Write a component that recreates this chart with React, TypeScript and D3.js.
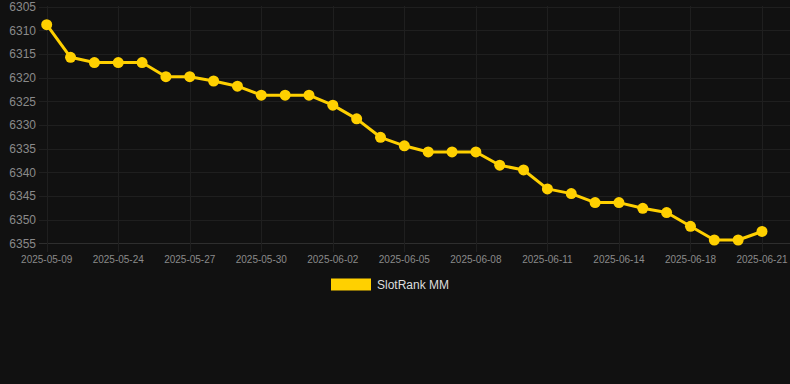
import React from "react";
import * as d3 from "d3";

const categories: string[] = [
  "2025-05-09", "2025-05-22", "2025-05-23", "2025-05-24", "2025-05-25", "2025-05-26",
  "2025-05-27", "2025-05-28", "2025-05-29", "2025-05-30", "2025-05-31", "2025-06-01",
  "2025-06-02", "2025-06-03", "2025-06-04", "2025-06-05", "2025-06-06", "2025-06-07",
  "2025-06-08", "2025-06-09", "2025-06-10", "2025-06-11", "2025-06-12", "2025-06-13",
  "2025-06-14", "2025-06-16", "2025-06-17", "2025-06-18", "2025-06-19", "2025-06-20",
  "2025-06-21",
];

const values: number[] = [
  6308.8, 6315.7, 6316.8, 6316.8, 6316.8, 6319.8, 6319.8, 6320.7, 6321.8, 6323.7,
  6323.7, 6323.7, 6325.8, 6328.7, 6332.6, 6334.4, 6335.7, 6335.7, 6335.7, 6338.5,
  6339.5, 6343.5, 6344.5, 6346.4, 6346.4, 6347.6, 6348.5, 6351.4, 6354.3, 6354.3,
  6352.5,
];

const yTicks: number[] = [6305, 6310, 6315, 6320, 6325, 6330, 6335, 6340, 6345, 6350, 6355];
const seriesName = "SlotRank MM";

const W = 790;
const H = 384;
const FONT = "'Liberation Sans', Arial, Helvetica, sans-serif";
const GOLD = "#ffd000";

export default function App() {
  const x = d3.scalePoint<string>().domain(categories).range([46.7, 762]);
  const y = d3.scaleLinear().domain([6305, 6355]).range([6.7, 243.3]);
  const line = d3
    .line<number>()
    .x((_, i) => x(categories[i]) as number)
    .y((d) => y(d));

  const labelIdx = categories.map((_, i) => i).filter((i) => i % 3 === 0);

  return (
    <svg
      width={W}
      height={H}
      style={{ position: "fixed", left: 0, top: 0, background: "#111111" }}
    >
      <rect x={0} y={0} width={W} height={H} fill="#111111" />
      {yTicks.map((t) => (
        <line
          key={"h" + t}
          x1={39}
          x2={790}
          y1={Math.round(y(t)) + 0.5}
          y2={Math.round(y(t)) + 0.5}
          stroke={t === 6355 ? "#2e2e2e" : "#1f1f1f"}
          strokeWidth={1}
        />
      ))}
      {labelIdx.map((i) => {
        const xv = Math.round(x(categories[i]) as number) + 0.5;
        return (
          <line
            key={"v" + i}
            x1={xv}
            x2={xv}
            y1={6}
            y2={252}
            stroke="#1f1f1f"
            strokeWidth={1}
          />
        );
      })}
      {yTicks.map((t) => (
        <text
          key={"yl" + t}
          x={36}
          y={y(t)}
          dy="0.35em"
          textAnchor="end"
          fill="#8a8a8a"
          fontSize={12}
          fontFamily={FONT}
        >
          {t}
        </text>
      ))}
      {labelIdx.map((i) => (
        <text
          key={"xl" + i}
          x={x(categories[i]) as number}
          y={259.5}
          dy="0.35em"
          textAnchor="middle"
          fill="#8a8a8a"
          fontSize={10}
          fontFamily={FONT}
        >
          {categories[i]}
        </text>
      ))}
      <path
        d={line(values) || ""}
        fill="none"
        stroke={GOLD}
        strokeWidth={3}
        strokeLinejoin="round"
      />
      {values.map((v, i) => (
        <circle
          key={"p" + i}
          cx={x(categories[i]) as number}
          cy={y(v)}
          r={5.5}
          fill={GOLD}
        />
      ))}
      <rect x={331} y={278.5} width={40} height={12} fill={GOLD} />
      <text
        x={377}
        y={284.5}
        dy="0.35em"
        fill="#dddddd"
        fontSize={12}
        fontFamily={FONT}
      >
        {seriesName}
      </text>
    </svg>
  );
}
